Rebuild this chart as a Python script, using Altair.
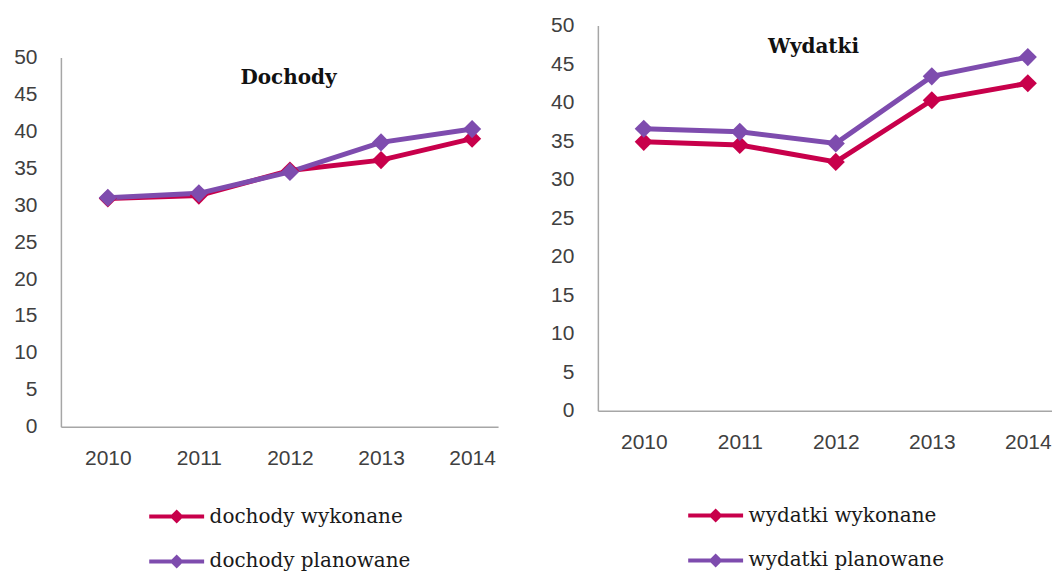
import altair as alt
import pandas as pd

years = [2010, 2011, 2012, 2013, 2014]
dochody_wykonane = [30.9, 31.3, 34.7, 36.1, 39.0]
dochody_planowane = [31.0, 31.6, 34.5, 38.5, 40.3]
wydatki_wykonane = [34.9, 34.5, 32.3, 40.3, 42.5]
wydatki_planowane = [36.6, 36.2, 34.7, 43.4, 45.9]

left_series = ["dochody wykonane", "dochody planowane"]
right_series = ["wydatki wykonane", "wydatki planowane"]
left_title = ["Dochody"]
right_title = ["Wydatki"]
y_ticks = [0, 5, 10, 15, 20, 25, 30, 35, 40, 45, 50]

RED = "#C8004B"
PURPLE = "#7E4CAE"
AXIS_FONT = "Liberation Sans"
SERIF = "DejaVu Serif"
LEGEND_PATH = ("M-2.75,-0.2 L-0.5,-0.2 L0,-0.7 L0.5,-0.2 L2.75,-0.2 L2.75,0.2 "
               "L0.5,0.2 L0,0.7 L-0.5,0.2 L-2.75,0.2 Z")


def make_df(series, a, b):
    rows = []
    for s, vals in zip(series, [a, b]):
        for yr, v in zip(years, vals):
            rows.append({"year": yr, "value": v, "series": s})
    return pd.DataFrame(rows)


def panel(df, series, title, width, height, yrange, xdomain, legend_xy, title_xy):
    x = alt.X("year:Q",
              scale=alt.Scale(domain=xdomain, nice=False, zero=False),
              axis=alt.Axis(values=years, format="d", title=None, ticks=False,
                            grid=False, labelFont=AXIS_FONT, labelFontSize=21,
                            labelColor="#404040", labelPadding=21, labelFlush=False,
                            domainColor="#A6A6A6", domainWidth=1.5))
    if yrange is not None:
        yscale = alt.Scale(domain=[0, 50], nice=False, zero=True, range=yrange)
    else:
        yscale = alt.Scale(domain=[0, 50], nice=False, zero=True)
    y = alt.Y("value:Q", scale=yscale,
              axis=alt.Axis(values=y_ticks, title=None, ticks=False, grid=False,
                            labelFont=AXIS_FONT, labelFontSize=21, labelColor="#404040",
                            labelPadding=24, labelFlush=False,
                            domainColor="#A6A6A6", domainWidth=1.5))
    cscale = alt.Scale(domain=series, range=[RED, PURPLE])
    legend = alt.Legend(title=None, orient="none",
                        legendX=legend_xy[0], legendY=legend_xy[1],
                        symbolType=LEGEND_PATH, symbolSize=400,
                        symbolStrokeWidth=0, labelFont=SERIF,
                        labelFontSize=20, labelColor="#1a1a1a",
                        labelOffset=23, rowPadding=25, padding=0,
                        labelLimit=400)
    base = alt.Chart(df)
    lines = base.mark_line(strokeWidth=5).encode(
        x=x, y=y,
        stroke=alt.Stroke("series:N", scale=cscale, legend=legend),
        detail="series:N",
    )
    points = base.mark_point(shape="diamond", filled=True, size=330, opacity=1).encode(
        x=x, y=y,
        fill=alt.Fill("series:N", scale=cscale, legend=legend),
        order=alt.Order("series:N", sort="descending"),
    )
    ttl = alt.Chart(pd.DataFrame({"t": title})).mark_text(
        font=SERIF, fontSize=20, fontWeight="bold", color="#111111",
        align="center", baseline="middle"
    ).encode(text="t:N", x=alt.value(title_xy[0]), y=alt.value(title_xy[1]))
    return alt.layer(lines, points, ttl).properties(width=width, height=height)


left = panel(make_df(left_series, dochody_wykonane, dochody_planowane), left_series,
             left_title, 438, 402, [402, 32], [2009.485, 2014.285], (106, 482), (228, 53))
right = panel(make_df(right_series, wydatki_wykonane, wydatki_planowane), right_series,
              right_title, 455, 386, None, [2009.522, 2014.252], (108, 481), (216, 22))

chart = alt.hconcat(left, right, spacing=100, bounds="flush").resolve_scale(
    fill="independent", stroke="independent"
).resolve_legend(fill="independent", stroke="independent").properties(
    padding={"left": 5, "top": 6, "right": 0, "bottom": 0}
).configure_view(stroke=None)

chart.save("out.html", embed_options={"renderer": "svg", "actions": False})
